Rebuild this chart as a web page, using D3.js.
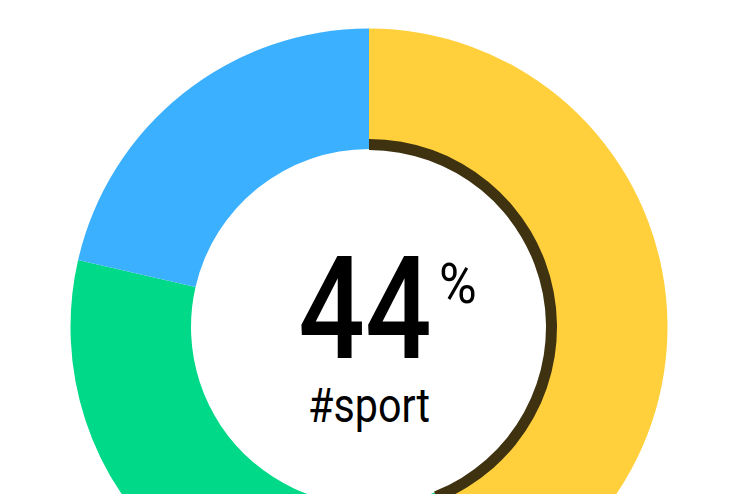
<!DOCTYPE html>
<html>
<head>
<meta charset="utf-8">
<script src="https://cdn.jsdelivr.net/npm/d3@7"></script>
<style>
  html, body { margin: 0; padding: 0; background: #ffffff; }
  svg { display: block; }
  text { font-family: Roboto, "Noto Sans", sans-serif; fill: #000; }
</style>
</head>
<body>
<div id="chart"></div>
<script>
// ---- data ----
const categories = ["#sport", "#music", "#travel"];
const values = [44, 34.6, 21.4];
const colors = ["#ffd03b", "#00d987", "#3bb0ff"];
const highlightIndex = 0;
const bigLabel = "44";
const unitLabel = "%";

// ---- layout ----
const W = 736, H = 494;
const cx = 369, cy = 327;
const outerR = 298.5, innerR = 178;

const svg = d3.select("#chart").append("svg")
  .attr("width", W).attr("height", H);

const g = svg.append("g").attr("transform", `translate(${cx},${cy})`);

const pie = d3.pie().sort(null).value(d => d.value).startAngle(0).endAngle(2 * Math.PI);
const data = categories.map((c, i) => ({ name: c, value: values[i], color: colors[i] }));
const arcs = pie(data);

const arc = d3.arc().innerRadius(innerR).outerRadius(outerR);

g.selectAll("path.slice")
  .data(arcs)
  .join("path")
  .attr("class", "slice")
  .attr("d", arc)
  .attr("fill", d => d.data.color);

// highlight band along the inner edge of the selected slice
const hl = arcs[highlightIndex];
const bandArc = d3.arc().innerRadius(innerR - 1).outerRadius(innerR + 10);
g.append("path")
  .attr("d", bandArc(hl))
  .attr("fill", "#3e3210");

// centre labels
g.append("text")
  .attr("text-anchor", "middle")
  .attr("font-size", 143)
  .attr("font-weight", 500)
  .attr("transform", "translate(-4,31) scale(0.82,1)")
  .text(bigLabel);

g.append("text")
  .attr("font-size", 56)
  .attr("transform", "translate(70,-24) scale(0.92,1)")
  .text(unitLabel);

g.append("text")
  .attr("text-anchor", "middle")
  .attr("font-size", 48)
  .attr("transform", "translate(0,95) scale(0.86,1)")
  .text(categories[highlightIndex]);
</script>
</body>
</html>
